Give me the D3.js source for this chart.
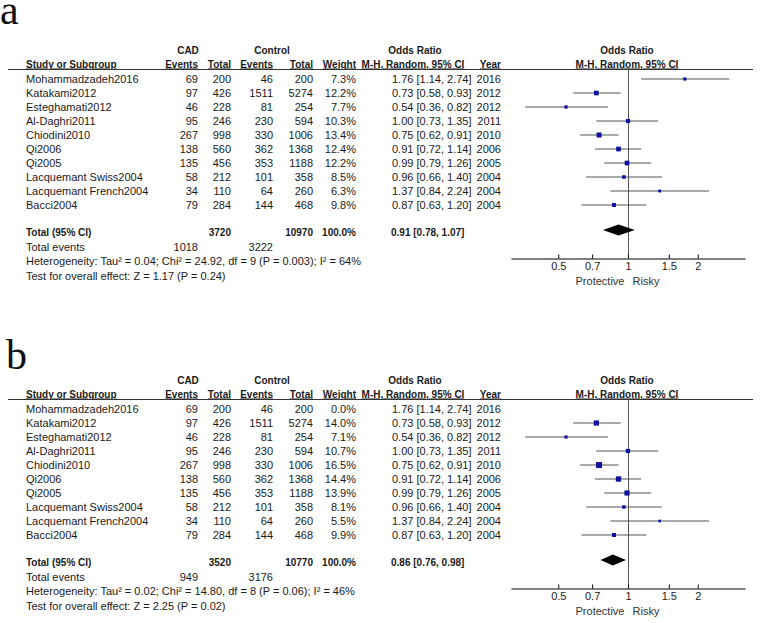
<!DOCTYPE html>
<html>
<head>
<meta charset="utf-8">
<script src="https://cdn.jsdelivr.net/npm/d3@7/dist/d3.min.js"></script>
<style>
  html, body { margin: 0; padding: 0; background: #fff; }
  svg { display: block; }
  text { font-family: "Liberation Sans", Arial, sans-serif; font-size: 11px; fill: #1a1a1a; }
  .b { font-weight: bold; font-size: 10px; }
  .u { text-decoration: underline; }
  .letter { font-family: "Liberation Serif", "DejaVu Serif", serif; font-size: 42px; fill: #111; }
</style>
</head>
<body>
<svg id="chart" width="768" height="623"></svg>
<script>
// ---------- DATA ----------
const studies = ["Mohammadzadeh2016", "Katakami2012", "Esteghamati2012", "Al-Daghri2011", "Chiodini2010",
                 "Qi2006", "Qi2005", "Lacquemant Swiss2004", "Lacquemant French2004", "Bacci2004"];
const cadEvents  = [69, 97, 46, 95, 267, 138, 135, 58, 34, 79];
const cadTotal   = [200, 426, 228, 246, 998, 560, 456, 212, 110, 284];
const ctrlEvents = [46, 1511, 81, 230, 330, 362, 353, 101, 64, 144];
const ctrlTotal  = [200, 5274, 254, 594, 1006, 1368, 1188, 358, 260, 468];
const orEst  = [1.76, 0.73, 0.54, 1.00, 0.75, 0.91, 0.99, 0.96, 1.37, 0.87];
const orLow  = [1.14, 0.58, 0.36, 0.73, 0.62, 0.72, 0.79, 0.66, 0.84, 0.63];
const orHigh = [2.74, 0.93, 0.82, 1.35, 0.91, 1.14, 1.26, 1.40, 2.24, 1.20];
const years  = [2016, 2012, 2012, 2011, 2010, 2006, 2005, 2004, 2004, 2004];
const weightsA = [7.3, 12.2, 7.7, 10.3, 13.4, 12.4, 12.2, 8.5, 6.3, 9.8];
const weightsB = [0.0, 14.0, 7.1, 10.7, 16.5, 14.4, 13.9, 8.1, 5.5, 9.9];

const pooledA = [0.91, 0.78, 1.07];
const pooledB = [0.86, 0.76, 0.98];
const totalsA = [3720, 10970];      // CAD total, control total
const totalsB = [3520, 10770];
const eventsA = [1018, 3222];       // CAD events, control events
const eventsB = [949, 3176];
const hetA  = "Heterogeneity: Tau\u00B2 = 0.04; Chi\u00B2 = 24.92, df = 9 (P = 0.003); I\u00B2 = 64%";
const testA = "Test for overall effect: Z = 1.17 (P = 0.24)";
const hetB  = "Heterogeneity: Tau\u00B2 = 0.02; Chi\u00B2 = 14.80, df = 8 (P = 0.06); I\u00B2 = 46%";
const testB = "Test for overall effect: Z = 2.25 (P = 0.02)";
const tickValues = [0.5, 0.7, 1, 1.5, 2];
const axisLabels = ["Protective", "Risky"];
const panelLetters = ["a", "b"];

// ---------- DRAW ----------
const svg = d3.select("#chart");
const f2 = d3.format(".2f");
const f1 = d3.format(".1f");
const orText = (e, l, h) => `${f2(e)} [${f2(l)}, ${f2(h)}]`;

const x = d3.scaleLog().domain([0.3125, 3.2]).range([511, 745]);
const rowY = d3.scaleLinear().domain([0, 1]).range([79, 93]);
const sq = d3.scaleLinear().domain([0, 16.5]).range([1, 5.95]);

function txt(g, xp, yp, s, anchor, cls) {
  return g.append("text").attr("x", xp).attr("y", yp).attr("dy", "0.35em")
    .attr("text-anchor", anchor || "start").attr("class", cls || null).text(s);
}

function panel(oy, weights, pooled, totals, events, het, test, letterIdx, letterX, letterY) {
  const g = svg.append("g").attr("transform", `translate(0,${oy})`);
  svg.append("text").attr("class", "letter").attr("x", letterX).attr("y", letterY).text(panelLetters[letterIdx]);

  // headers
  txt(g, 188, 50, "CAD", "middle", "b");
  txt(g, 272, 50, "Control", "middle", "b");
  txt(g, 415, 50, "Odds Ratio", "middle", "b");
  txt(g, 627, 50, "Odds Ratio", "middle", "b");
  txt(g, 26, 64, "Study or Subgroup", "start", "b u");
  txt(g, 198, 64, "Events", "end", "b u");
  txt(g, 231, 64, "Total", "end", "b u");
  txt(g, 273, 64, "Events", "end", "b u");
  txt(g, 313, 64, "Total", "end", "b u");
  txt(g, 356, 64, "Weight", "end", "b u");
  txt(g, 413, 64, "M-H, Random, 95% CI", "middle", "b u");
  txt(g, 501, 64, "Year", "end", "b u");
  txt(g, 627, 64, "M-H, Random, 95% CI", "middle", "b u");

  g.append("line").attr("x1", 8).attr("x2", 753).attr("y1", 69.5).attr("y2", 69.5)
    .attr("stroke", "#333").attr("stroke-width", 1);

  // rows
  studies.forEach((s, i) => {
    const y = rowY(i);
    txt(g, 26, y, s);
    txt(g, 198, y, cadEvents[i], "end");
    txt(g, 231, y, cadTotal[i], "end");
    txt(g, 273, y, ctrlEvents[i], "end");
    txt(g, 313, y, ctrlTotal[i], "end");
    txt(g, 356, y, f1(weights[i]) + "%", "end");
    txt(g, 392, y, orText(orEst[i], orLow[i], orHigh[i]));
    txt(g, 501, y, years[i], "end");
  });

  // null line
  g.append("line").attr("x1", Math.round(x(1)) + 0.5).attr("x2", Math.round(x(1)) + 0.5)
    .attr("y1", 69.5).attr("y2", 258).attr("stroke", "#555").attr("stroke-width", 1);

  // CI lines + squares
  studies.forEach((s, i) => {
    if (weights[i] <= 0) return;
    const y = rowY(i);
    g.append("line").attr("x1", x(orLow[i])).attr("x2", x(orHigh[i]))
      .attr("y1", y).attr("y2", y).attr("stroke", "#555").attr("stroke-width", 1.2);
    const w = sq(weights[i]);
    g.append("rect").attr("x", x(orEst[i]) - w / 2).attr("y", y - w / 2)
      .attr("width", w).attr("height", w).attr("fill", "#1010a0");
  });

  // totals
  txt(g, 26, 232, "Total (95% CI)", "start", "b");
  txt(g, 231, 232, totals[0], "end", "b");
  txt(g, 313, 232, totals[1], "end", "b");
  txt(g, 356, 232, "100.0%", "end", "b");
  txt(g, 391, 232, orText(pooled[0], pooled[1], pooled[2]), "start", "b");
  txt(g, 26, 247, "Total events");
  txt(g, 198, 247, events[0], "end");
  txt(g, 273, 247, events[1], "end");
  txt(g, 26, 261, het);
  txt(g, 26, 276, test);

  // diamond
  const dy = 230, dh = 5.5;
  const pts = [[x(pooled[1]), dy], [x(pooled[0]), dy - dh], [x(pooled[2]), dy], [x(pooled[0]), dy + dh]];
  g.append("path").attr("d", d3.line()(pts) + "Z").attr("fill", "#000");

  // axis
  const ax = g.append("g").attr("transform", "translate(0,258.5)")
    .call(d3.axisBottom(x).tickValues(tickValues).tickFormat(d3.format("")).tickSizeInner(-4).tickSizeOuter(0).tickPadding(4));
  ax.select(".domain").attr("stroke", "#000");
  ax.selectAll(".tick line").attr("stroke", "#000");
  ax.selectAll(".tick text").attr("fill", "#1a1a1a").style("font-size", "11px")
    .style("font-family", "\"Liberation Sans\", Arial, sans-serif");
  txt(g, 600, 281, axisLabels[0], "middle").style("fill", "#333");
  txt(g, 646, 281, axisLabels[1], "middle").style("fill", "#333");
}

panel(0, weightsA, pooledA, totalsA, eventsA, hetA, testA, 0, 0, 24);
panel(330, weightsB, pooledB, totalsB, eventsB, hetB, testB, 1, 6, 369);
</script>
</body>
</html>
